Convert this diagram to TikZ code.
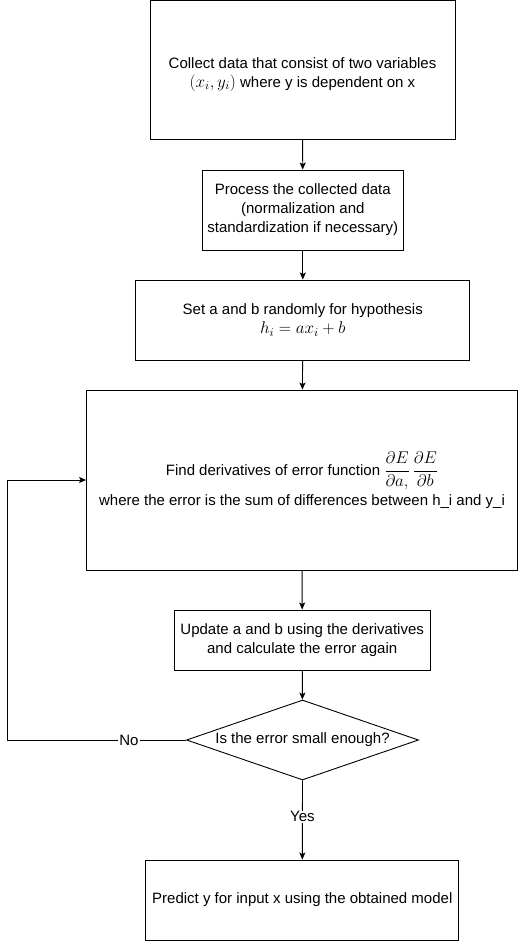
\RequirePackage{fix-cm}
\documentclass[tikz,border=0pt]{standalone}
\usepackage[no-math]{fontspec}
\setmainfont{Liberation Sans}
\usetikzlibrary{arrows.meta,shapes.geometric}
\newcommand\bigmath[1]{{\fontsize{17}{19}\selectfont$#1$}}
\begin{document}
\begin{tikzpicture}[x=1pt,y=-1pt,
  box/.style={draw, line width=0.9pt, rectangle, inner sep=0pt, align=center,
    font=\fontsize{15}{19}\selectfont},
  dec/.style={draw, line width=0.9pt, diamond, aspect=2.9, inner sep=0pt,
    minimum width=232pt, minimum height=80pt, align=center,
    font=\fontsize{15}{19}\selectfont},
  arr/.style={-{Stealth[length=7pt,width=6pt,inset=1.5pt]}, line width=0.9pt},
  lbl/.style={fill=white, inner sep=1pt, font=\fontsize{15}{17}\selectfont}]
\useasboundingbox (0,0) rectangle (519,941);
\node[box, minimum width=305pt, minimum height=138.5pt] (b1) at (302.5,70)
  {\rule{0pt}{20pt}Collect data that consist of two variables\\
   \bigmath{(x_i, y_i)} where y is dependent on x};
\node[box, minimum width=201pt, minimum height=80pt] (b2) at (302.8,210)
  {Process the collected data\\(normalization and\\standardization if necessary)};
\node[box, minimum width=334pt, minimum height=80pt] (b3) at (302.8,320)
  {Set a and b randomly for hypothesis\\\bigmath{h_i = ax_i + b}};
\node[box, minimum width=431pt, minimum height=180pt] (b4) at (302,480)
  {Find derivatives of error function \bigmath{\displaystyle\frac{\partial E}{\partial a,}\,\frac{\partial E}{\partial b}}\\[3pt]
   where the error is the sum of differences between h\_i and y\_i};
\node[box, minimum width=256pt, minimum height=60pt] (b5) at (302.2,640)
  {Update a and b using the derivatives\\and calculate the error again};
\node[dec] (d) at (302.5,740) {Is the error small enough?};
\node[box, minimum width=313pt, minimum height=80pt] (b6) at (302.3,900)
  {Predict y for input x using the obtained model};
\coordinate (lp) at (7.5,740);
\draw[arr] (b1) -- (b2);
\draw[arr] (b2) -- (b3);
\draw[arr] (b3) -- (b4);
\draw[arr] (b4) -- (b5);
\draw[arr] (b5) -- (d);
\draw[arr] (d.west) -- node[lbl, pos=0.32] {No} (lp) |- (b4.west);
\draw[arr] (d.south) -- node[lbl, pos=0.46] {Yes} (b6.north);
\end{tikzpicture}
\end{document}
